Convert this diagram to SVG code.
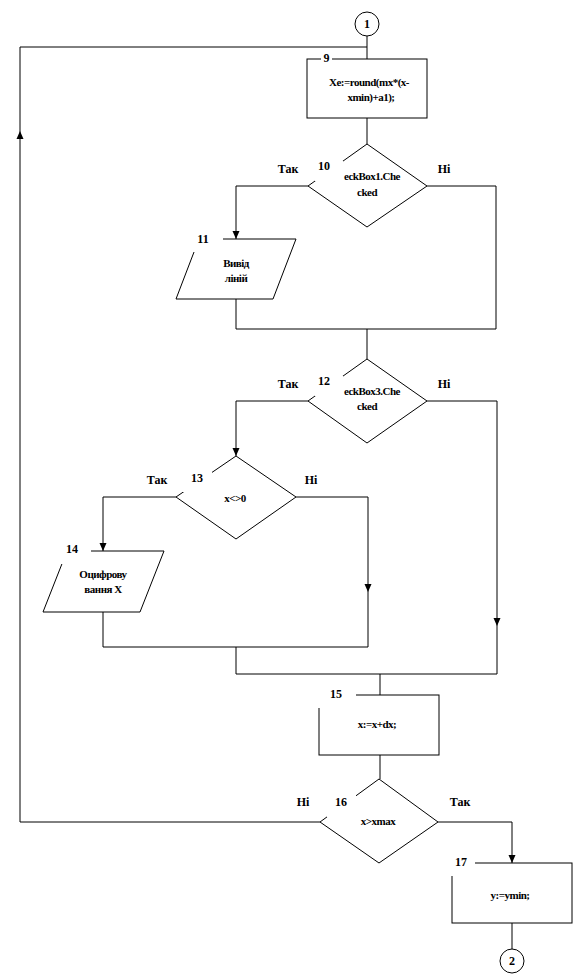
<svg xmlns="http://www.w3.org/2000/svg" width="578" height="975" viewBox="0 0 578 975">
<style>
.s{fill:#fff;stroke:#000;stroke-width:1}
.c{fill:none;stroke:#000;stroke-width:1}
.bg{fill:#fff;stroke:none}
text{font-family:"Liberation Serif","Times New Roman",serif;font-weight:bold;fill:#000}
.n{font-size:12px;text-anchor:middle}
.t{font-size:11px;text-anchor:middle;letter-spacing:-0.5px}
.ah{fill:#000}
</style>
<defs>
<path id="ah" d="M-3.5,-8 L3.5,-8 L0,0 Z"/>
</defs>
<g id="connectors">
<path class="c" d="M367,36 V59 M367,47 H20 V822 H320"/>
<path class="c" d="M367,118 V144"/>
<path class="c" d="M308,186 H236 V239 M427,186 H496 V329 H236 V299 M367,329 V359"/>
<path class="c" d="M308,401 H236 V456 M427,401 H497 V674 H236 V647 M103,612 V647 H368 V497 H296 M176,497 H103 V551"/>
<path class="c" d="M380,674 V695 M380,755 V779"/>
<path class="c" d="M438,822 H512 V863 M512,923 V949"/>
<use href="#ah" class="ah" transform="translate(20,131) rotate(180)"/>
<use href="#ah" class="ah" transform="translate(236,239)"/>
<use href="#ah" class="ah" transform="translate(236,456)"/>
<use href="#ah" class="ah" transform="translate(103,551)"/>
<use href="#ah" class="ah" transform="translate(368,592)"/>
<use href="#ah" class="ah" transform="translate(497,626)"/>
<use href="#ah" class="ah" transform="translate(512,863)"/>
</g>
<g id="n1">
<circle class="s" cx="367" cy="24" r="12"/>
<text class="n" x="367" y="28">1</text>
</g>
<g id="n9">
<rect class="s" x="307" y="59" width="120" height="59"/>
<rect class="bg" x="321" y="53" width="11" height="10"/>
<text class="n" x="326.5" y="62">9</text>
<text class="t" x="369" y="86">Xe:=round(mx*(x-</text>
<text class="t" x="371" y="101">xmin)+a1);</text>
</g>
<g id="n10">
<polygon class="s" points="367,144 427,186 367,227 308,186"/>
<rect class="bg" x="315" y="161" width="28" height="20"/>
<text class="n" x="324" y="170">10</text>
<text class="n" x="288" y="173">Так</text>
<text class="n" x="444" y="173">Ні</text>
<text class="t" x="372" y="180">eckBox1.Che</text>
<text class="t" x="367" y="196">cked</text>
</g>
<g id="n11">
<polygon class="s" points="199,239 296,239 273,299 176,299"/>
<rect class="bg" x="188" y="231" width="35" height="21"/>
<text class="n" x="203" y="243">11</text>
<text class="t" x="236" y="267">Вивід</text>
<text class="t" x="236" y="282">ліній</text>
</g>
<g id="n12">
<polygon class="s" points="367,359 427,401 367,443 308,401"/>
<rect class="bg" x="315" y="376" width="28" height="20"/>
<text class="n" x="324" y="385">12</text>
<text class="n" x="288" y="388">Так</text>
<text class="n" x="444" y="388">Ні</text>
<text class="t" x="372" y="395">eckBox3.Che</text>
<text class="t" x="367" y="410">cked</text>
</g>
<g id="n13">
<polygon class="s" points="236,456 296,497 236,539 176,497"/>
<rect class="bg" x="183" y="471" width="29" height="21"/>
<text class="n" x="197" y="482">13</text>
<text class="n" x="157" y="484">Так</text>
<text class="n" x="311" y="484">Ні</text>
<text class="t" x="235" y="502">x&lt;&gt;0</text>
</g>
<g id="n14">
<polygon class="s" points="67,551 164,551 140,612 43,612"/>
<rect class="bg" x="58" y="543" width="33" height="21"/>
<text class="n" x="72" y="553">14</text>
<text class="t" x="103" y="578">Оцифрову</text>
<text class="t" x="103" y="593">вання X</text>
</g>
<g id="n15">
<rect class="s" x="319" y="695" width="120" height="60"/>
<rect class="bg" x="318" y="686" width="38" height="22"/>
<text class="n" x="336" y="698">15</text>
<text class="t" x="377" y="728">x:=x+dx;</text>
</g>
<g id="n16">
<polygon class="s" points="379,779 438,822 379,863 320,822"/>
<rect class="bg" x="327" y="794" width="29" height="23"/>
<text class="n" x="341" y="806">16</text>
<text class="n" x="303" y="806">Ні</text>
<text class="n" x="460" y="806">Так</text>
<text class="t" x="378" y="825">x&gt;xmax</text>
</g>
<g id="n17">
<rect class="s" x="452" y="863" width="120" height="60"/>
<rect class="bg" x="451" y="855" width="24" height="21"/>
<text class="n" x="461" y="866">17</text>
<text class="t" x="510" y="899">y:=ymin;</text>
</g>
<g id="n2">
<circle class="s" cx="512" cy="961" r="12"/>
<text class="n" x="512" y="965">2</text>
</g>
</svg>
